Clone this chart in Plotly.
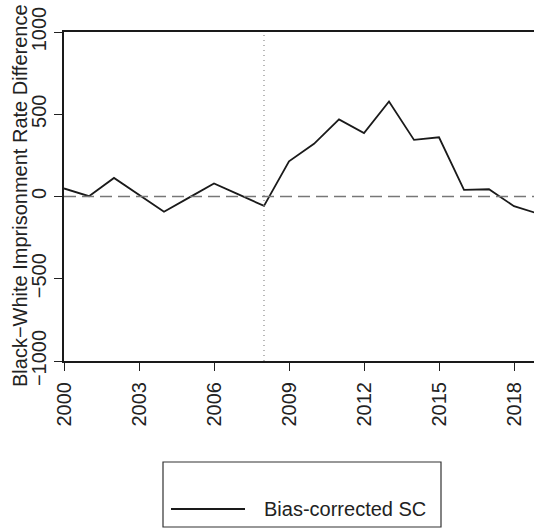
import plotly.graph_objects as go

# Annual black-white imprisonment rate gap, bias-corrected synthetic control
years = list(range(2000, 2020))
gap = [49, 2, 113, 10, -93, -7, 79, 11, -57, 214, 320, 469, 386, 578, 344, 360, 40, 44, -59, -106]

treat_year = 2008
y_ticks = [-1000, -500, 0, 500, 1000]
y_tick_text = ["\u22121000", "\u2212500", "0", "500", "1000"]
x_ticks = [2000, 2003, 2006, 2009, 2012, 2015, 2018]
y_title = "Black\u2212White Imprisonment Rate Difference"
legend_label = "Bias-corrected SC"

W, H = 534, 528
L, R, T, B = 64, 0, 32, 167
font = "Liberation Sans, Arial, sans-serif"

fig = go.Figure()

fig.add_trace(go.Scatter(
    x=years, y=gap, mode="lines",
    line=dict(color="#1a1a1a", width=1.8),
    showlegend=False, hoverinfo="skip", cliponaxis=True,
))

# reference line at zero
fig.add_shape(type="line", xref="paper", yref="y", x0=0, x1=1, y0=0, y1=0,
              line=dict(color="#777777", width=1.6, dash="12px,6px"))
# treatment year marker
fig.add_shape(type="line", xref="x", yref="paper", x0=treat_year, x1=treat_year, y0=0, y1=1,
              line=dict(color="#8a8a8a", width=1.2, dash="1px,4px"))

# pixel -> paper helpers for the outer decorations
def px(x):
    return (x - L) / (W - L - R)

def py(y):
    return (H - B - y) / (H - T - B)

# y-axis title
fig.add_annotation(xref="paper", yref="paper", x=px(20), y=py(196),
                   text=y_title, textangle=-90, showarrow=False,
                   xanchor="center", yanchor="middle",
                   font=dict(family=font, size=20, color="#222222"))

# legend box below the plot
fig.add_shape(type="rect", xref="paper", yref="paper",
              x0=px(163), x1=px(441), y0=py(527), y1=py(462),
              line=dict(color="#333333", width=1.2), fillcolor="rgba(0,0,0,0)")
fig.add_shape(type="line", xref="paper", yref="paper",
              x0=px(171), x1=px(245), y0=py(509), y1=py(509),
              line=dict(color="#1a1a1a", width=1.8))
fig.add_annotation(xref="paper", yref="paper", x=px(262), y=py(509),
                   text=legend_label, showarrow=False,
                   xanchor="left", yanchor="middle",
                   font=dict(family=font, size=20, color="#222222"))

fig.update_layout(
    width=W, height=H,
    margin=dict(l=L, r=R, t=T, b=B, pad=0),
    paper_bgcolor="white", plot_bgcolor="white",
    font=dict(family=font, size=20, color="#222222"),
    showlegend=False,
)
fig.update_xaxes(
    range=[2000, 2018.8], tickmode="array", tickvals=x_ticks,
    ticktext=[str(v) for v in x_ticks], tickangle=-90,
    ticks="outside", ticklen=8, tickwidth=1.2, tickcolor="#222222",
    ticklabelstandoff=3,
    showline=True, linecolor="#1a1a1a", linewidth=2, mirror=True,
    showgrid=False, zeroline=False,
    tickfont=dict(family=font, size=20, color="#222222"),
)
fig.update_yaxes(
    range=[-1000, 1000], tickmode="array", tickvals=y_ticks,
    ticktext=y_tick_text, tickangle=-90,
    ticks="outside", ticklen=8, tickwidth=1.2, tickcolor="#222222",
    showline=True, linecolor="#1a1a1a", linewidth=2, mirror=False,
    showgrid=False, zeroline=False,
    tickfont=dict(family=font, size=20, color="#222222"),
)

fig.write_html("out.html")
